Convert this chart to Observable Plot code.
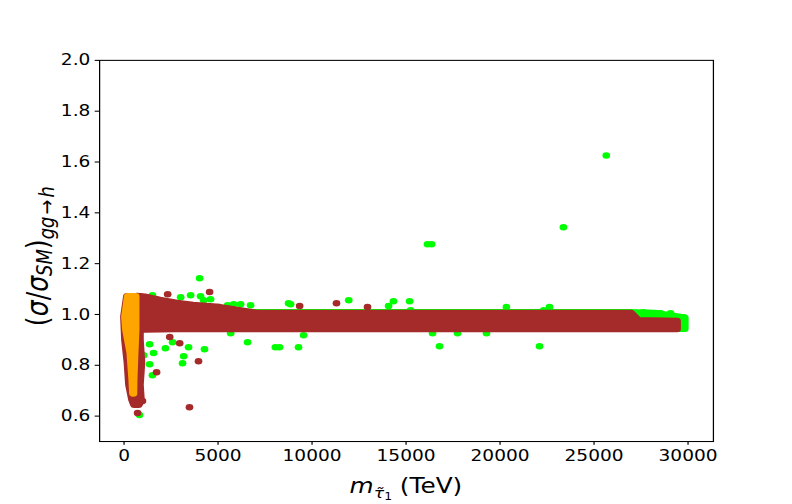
<!DOCTYPE html>
<html>
<head>
<meta charset="utf-8">
<script src="https://cdn.jsdelivr.net/npm/d3@7"></script>
<script src="https://cdn.jsdelivr.net/npm/@observablehq/plot@0.6"></script>
<style>
  html, body { margin: 0; padding: 0; background: white; }
</style>
</head>
<body>
<div id="chart"></div>
<script>
// ---- tick labels ----
const xTicks = [0, 5000, 10000, 15000, 20000, 25000, 30000];
const yTicks = [0.6, 0.8, 1.0, 1.2, 1.4, 1.6, 1.8, 2.0];

// ---- green points (scattered outliers) ----
const greenX = [25650, 23370, 16140, 16360, 4020, 22100, 16780, 8050, 8270, 9280, 6570, 9550, 5670, 16410, 17740, 19280,
  11950, 14070, 14330, 15190, 15240, 20340, 22630, 22320,
  1360, 1570, 2200, 2580, 3170, 3110, 3430, 4280, 1360, 1510, 1040, 820,
  1510, 3010, 3540, 4070, 4230, 4600, 5510, 5830, 6200, 6730, 8860, 8750,
  27640, 28540, 29070, 29760];
const greenY = [1.626, 1.343, 1.276, 1.276, 1.143, 0.875, 0.875, 0.871, 0.871, 0.871, 0.891, 0.918, 0.926, 0.926, 0.926, 0.926,
  1.056, 1.033, 1.052, 1.052, 1.017, 1.029, 1.029, 1.017,
  0.883, 0.848, 0.867, 0.891, 0.836, 0.808, 0.871, 0.863, 0.804, 0.761, 0.840, 0.604,
  1.076, 1.068, 1.076, 1.072, 1.056, 1.060, 1.036, 1.040, 1.040, 1.036, 1.040, 1.044,
  1.009, 1.005, 1.005, 0.989];

// ---- green dense band (envelope of point centres) ----
const gBandX = [770, 26950, 28260, 29860];
const gBandTop = [1.007, 1.007, 1.004, 0.985];
const gBandBot = [0.942, 0.942, 0.942, 0.942];

// ---- brown points (scattered outliers) ----
const brownX = [980, 670, 720, 1730, 2430, 2960, 3960, 3480, 2320, 4550, 11300, 12950, 9340];
const brownY = [0.659, 0.651, 0.612, 0.773, 0.911, 0.887, 0.816, 0.635, 1.080, 1.088, 1.044, 1.029, 1.033];

// ---- brown dense band (envelope of point centres) ----
const bandX = [720, 1140, 1940, 2850, 3700, 5130, 7100, 27000, 27400, 29450];
const bandTop = [1.071, 1.068, 1.055, 1.043, 1.035, 1.027, 1.004, 1.004, 0.975, 0.972];
const bandBot = [0.937, 0.939, 0.940, 0.941, 0.941, 0.941, 0.941, 0.941, 0.941, 0.941];

// ---- brown vertical stem at low mass ----
const stemY = [1.070, 0.989, 0.899, 0.808, 0.722, 0.663, 0.643];
const stemXlo = [186, 27, 80, 213, 293, 452, 558];
const stemXhi = [878, 878, 878, 957, 878, 931, 824];

// ---- orange vertical strip ----
const orY = [1.070, 1.037, 0.989, 0.938, 0.848, 0.742, 0.687];
const orXlo = [230, 170, 80, 133, 362, 468, 505];
const orXhi = [649, 649, 649, 649, 596, 543, 532];

const GREEN = "#00ff00", BROWN = "#a52a2a", ORANGE = "#ffa500";
const R = 3.1;

const greenPts = greenX.map((x, i) => ({x, y: greenY[i]}));
const brownPts = brownX.map((x, i) => ({x, y: brownY[i]}));
const gBand = gBandX.map((x, i) => ({x, y1: gBandBot[i], y2: gBandTop[i]}));
const bBand = bandX.map((x, i) => ({x, y1: bandBot[i], y2: bandTop[i]}));
const stem = stemY.map((y, i) => ({y, x1: stemXlo[i], x2: stemXhi[i]}));
const orange = orY.map((y, i) => ({y, x1: orXlo[i], x2: orXhi[i]}));

const bandStyle = c => ({fill: c, stroke: c, strokeWidth: 2 * R, strokeLinejoin: "round"});

const svg = Plot.plot({
  width: 640,
  height: 480,
  marginLeft: 80,
  marginRight: 64,
  marginTop: 57,
  marginBottom: 60,
  style: {fontFamily: "DejaVu Sans", fontSize: "15px", color: "black", background: "white"},
  x: {domain: [-1300, 31350], label: null},
  y: {domain: [0.5, 2.0], label: null},
  marks: [
    Plot.areaY(gBand, {x: "x", y1: "y1", y2: "y2", ...bandStyle(GREEN)}),
    Plot.dot(greenPts, {x: "x", y: "y", r: R, fill: GREEN}),
    Plot.areaX(stem, {y: "y", x1: "x1", x2: "x2", ...bandStyle(BROWN)}),
    Plot.areaY(bBand, {x: "x", y1: "y1", y2: "y2", ...bandStyle(BROWN)}),
    Plot.dot(brownPts, {x: "x", y: "y", r: R, fill: BROWN}),
    Plot.areaX(orange, {y: "y", x1: "x1", x2: "x2", ...bandStyle(ORANGE)}),
    Plot.frame({stroke: "black", strokeWidth: 1}),
    Plot.axisX({ticks: xTicks, tickFormat: d => String(d), tickSize: 3.5, tickPadding: 4, strokeWidth: 1, label: null}),
    Plot.axisY({ticks: yTicks, tickFormat: d => d.toFixed(1), tickSize: 3.5, tickPadding: 4, strokeWidth: 1, label: null})
  ]
});

// stretch the 640x480 drawing to the 792x504 page like the reference
svg.setAttribute("viewBox", "0 0 640 480");
svg.setAttribute("preserveAspectRatio", "none");
svg.setAttribute("width", 792);
svg.setAttribute("height", 504);
svg.style.width = "792px";
svg.style.height = "504px";
svg.style.maxWidth = "none";

const s = d3.select(svg);
// tick label font
s.selectAll("text")
  .style("font-size", "15px")
  .style("font-family", "'DejaVu Sans'")
  .attr("fill", "black");

// x axis label: m_{τ̃_1} (TeV)
const xl = s.append("text")
  .attr("x", 328).attr("y", 470)
  .attr("text-anchor", "middle")
  .style("font-family", "'DejaVu Sans'")
  .style("font-size", "20px")
  .attr("fill", "black");
xl.append("tspan").attr("font-style", "italic").text("m");
xl.append("tspan").attr("font-style", "italic").style("font-size", "14px").attr("dy", 4).text("τ\u0303");
xl.append("tspan").style("font-size", "10px").attr("dy", 2).text("1");
xl.append("tspan").attr("dy", -6).text(" (TeV)");

// y axis label: (σ/σ_SM)_{gg→h}
const yl = s.append("text")
  .attr("transform", "translate(30,244) rotate(-90)")
  .attr("text-anchor", "middle")
  .attr("dy", "0.35em")
  .style("font-family", "'DejaVu Sans'")
  .style("font-size", "24px")
  .attr("fill", "black");
yl.append("tspan").text("(");
yl.append("tspan").attr("font-style", "italic").text("σ");
yl.append("tspan").text("/");
yl.append("tspan").attr("font-style", "italic").text("σ");
yl.append("tspan").attr("font-style", "italic").style("font-size", "17px").attr("dy", 4).text("SM");
yl.append("tspan").attr("dy", -4).text(")");
yl.append("tspan").attr("font-style", "italic").style("font-size", "17px").attr("dy", 5).text("gg");
yl.append("tspan").style("font-size", "17px").attr("dx", 2).text("→");
yl.append("tspan").attr("font-style", "italic").style("font-size", "17px").attr("dx", 2).text("h");

document.getElementById("chart").appendChild(svg);
</script>
</body>
</html>
